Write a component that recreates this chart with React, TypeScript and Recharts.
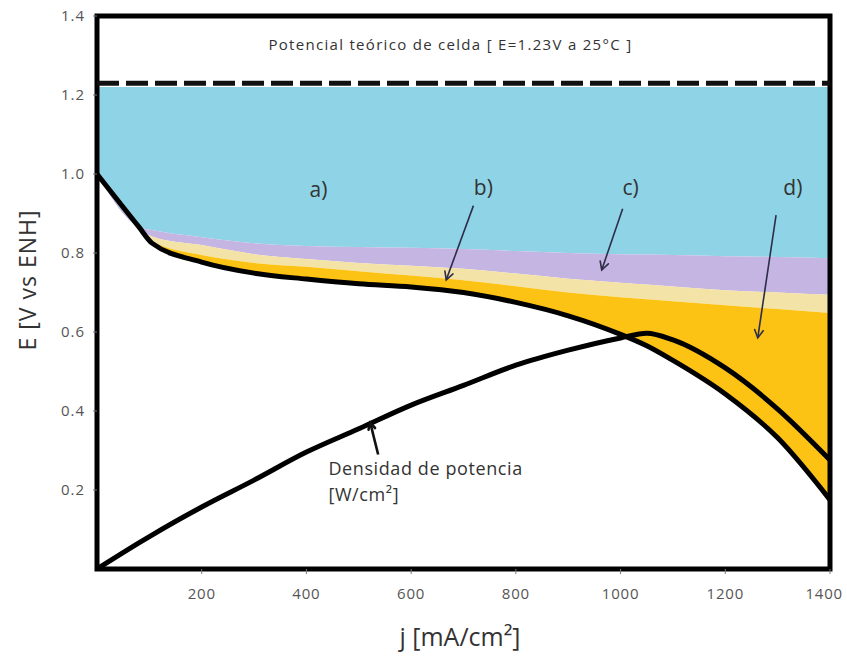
import { ComposedChart, Area, Line, XAxis, YAxis, ReferenceLine, ReferenceArea, ReferenceDot } from 'recharts'

// j [mA/cm2] and read-off values (V) for each layer boundary
const jValues = [0, 80, 105, 200, 300, 400, 500, 600, 700, 800, 900, 1000, 1050, 1100, 1200, 1300, 1400]
const cellVoltage = [1.0, 0.866, 0.825, 0.777, 0.749, 0.734, 0.722, 0.714, 0.7, 0.675, 0.641, 0.594, 0.565, 0.528, 0.443, 0.332, 0.175]
const powerDensity = [0, 0.066, 0.086, 0.157, 0.225, 0.296, 0.355, 0.415, 0.465, 0.516, 0.554, 0.585, 0.597, 0.58, 0.509, 0.405, 0.276]
const lossD = [1.0, 0.866, 0.83, 0.795, 0.775, 0.765, 0.754, 0.743, 0.731, 0.716, 0.7, 0.688, 0.683, 0.678, 0.668, 0.658, 0.648]
const lossC = [1.0, 0.866, 0.842, 0.82, 0.797, 0.785, 0.775, 0.768, 0.76, 0.748, 0.735, 0.725, 0.72, 0.715, 0.706, 0.7, 0.694]
const lossB = [1.0, 0.866, 0.858, 0.84, 0.825, 0.818, 0.815, 0.813, 0.81, 0.805, 0.8, 0.797, 0.796, 0.795, 0.792, 0.79, 0.787]
const lossATop = 1.22
const theoretical = 1.23

const xTicks = [200, 400, 600, 800, 1000, 1200, 1400]
const yTicks = [0.2, 0.4, 0.6, 0.8, 1.0, 1.2, 1.4]

const data = jValues.map((j, i) => ({
  j,
  E: cellVoltage[i],
  P: powerDensity[i],
  a: [lossB[i], lossATop],
  b: [lossC[i], lossB[i]],
  c: [lossD[i], lossC[i]],
  d: [cellVoltage[i], lossD[i]],
}))

const font = '"Open Sans", sans-serif'

const arrow = (color: string, width: number, head = 9) => (p: any) => {
  const { x1, y1, x2, y2 } = p
  const a = Math.atan2(y2 - y1, x2 - x1)
  const h1 = [x2 - head * Math.cos(a - 0.5), y2 - head * Math.sin(a - 0.5)]
  const h2 = [x2 - head * Math.cos(a + 0.5), y2 - head * Math.sin(a + 0.5)]
  return (
    <g>
      <line x1={x1} y1={y1} x2={x2} y2={y2} stroke={color} strokeWidth={width} />
      <polyline
        points={`${h1[0]},${h1[1]} ${x2},${y2} ${h2[0]},${h2[1]}`}
        fill="none"
        stroke={color}
        strokeWidth={width}
        strokeLinecap="round"
      />
    </g>
  )
}

const note = (text: string, size: number, anchor: 'start' | 'middle', spacing = 0, color = '#333') => (p: any) => (
  <text
    x={p.cx}
    y={p.cy}
    textAnchor={anchor}
    dominantBaseline="middle"
    fontFamily={font}
    fontSize={size}
    letterSpacing={spacing}
    fill={color}
  >
    {text}
  </text>
)

// last label would run off the right edge, so pull it in a bit
const XTick = (p: any) => {
  const last = p.payload.value === 1400
  return (
    <text
      x={last ? p.x + 13 : p.x}
      y={p.y}
      dy="0.71em"
      textAnchor={last ? 'end' : 'middle'}
      fontFamily={font}
      fontSize={15}
      letterSpacing={0.8}
      fill="#555"
    >
      {p.payload.value}
    </text>
  )
}

export default function App() {
  return (
    <div style={{ position: 'absolute', left: 0, top: 0, background: '#fff' }}>
      <ComposedChart width={847} height={656} data={data} margin={{ top: 16, right: 17, bottom: 0, left: 0 }}>
        <XAxis
          dataKey="j"
          type="number"
          domain={[0, 1400]}
          ticks={xTicks}
          height={87}
          axisLine={false}
          tickLine={{ stroke: '#777' }}
          tickSize={5}
          tickMargin={14}
          tick={<XTick />}
          label={{
            content: () => (
              <text x={460} y={646} textAnchor="middle" fontFamily={font} fontSize={25} fill="#333">
                j [mA/cm²]
              </text>
            ),
          }}
        />
        <YAxis
          type="number"
          domain={[0, 1.4]}
          ticks={yTicks}
          width={97}
          axisLine={false}
          tickLine={{ stroke: '#777' }}
          tickSize={4}
          tickMargin={8}
          tickFormatter={(v: number) => v.toFixed(1)}
          tick={{ fontSize: 15, fill: '#555', fontFamily: font, letterSpacing: 1 }}
          label={{
            content: () => (
              <text
                x={36}
                y={280}
                transform="rotate(-90 36 280)"
                textAnchor="middle"
                fontFamily={font}
                fontSize={23}
                letterSpacing={1}
                fill="#333"
              >
                E [V vs ENH]
              </text>
            ),
          }}
        />
        <Area type="monotone" dataKey="a" stroke="none" fill="#8fd4e6" fillOpacity={1} isAnimationActive={false} />
        <Area type="monotone" dataKey="b" stroke="none" fill="#c5b5e2" fillOpacity={1} isAnimationActive={false} />
        <Area type="monotone" dataKey="c" stroke="none" fill="#f4e3a6" fillOpacity={1} isAnimationActive={false} />
        <Area type="monotone" dataKey="d" stroke="none" fill="#fcc214" fillOpacity={1} isAnimationActive={false} />
        <ReferenceLine y={theoretical} stroke="#111" strokeWidth={5} strokeDasharray="22 7" />
        <Line type="monotone" dataKey="E" stroke="#000" strokeWidth={5} dot={false} strokeLinejoin="round" isAnimationActive={false} />
        <Line type="monotone" dataKey="P" stroke="#000" strokeWidth={5} dot={false} strokeLinejoin="round" isAnimationActive={false} />
        <ReferenceArea x1={0} x2={1400} y1={0} y2={1.4} fill="none" stroke="#000" strokeWidth={5} />

        <ReferenceDot x={675} y={1.324} r={1} shape={note('Potencial teórico de celda [ E=1.23V a 25°C ]', 15, 'middle', 1.3)} />
        <ReferenceDot x={423} y={0.955} r={1} shape={note('a)', 21, 'middle')} />
        <ReferenceDot x={738} y={0.96} r={1} shape={note('b)', 21, 'middle')} />
        <ReferenceDot x={1019} y={0.96} r={1} shape={note('c)', 21, 'middle')} />
        <ReferenceDot x={1329} y={0.96} r={1} shape={note('d)', 21, 'middle')} />
        <ReferenceDot x={442} y={0.25} r={1} shape={note('Densidad de potencia', 18, 'start', 0.6)} />
        <ReferenceDot x={442} y={0.185} r={1} shape={note('[W/cm²]', 18, 'start', 0.6)} />

        <ReferenceLine segment={[{ x: 719, y: 0.92 }, { x: 667, y: 0.732 }]} shape={arrow('#2d2d48', 1.6)} />
        <ReferenceLine segment={[{ x: 1004, y: 0.912 }, { x: 964, y: 0.757 }]} shape={arrow('#2d2d48', 1.6)} />
        <ReferenceLine segment={[{ x: 1297, y: 0.896 }, { x: 1262, y: 0.585 }]} shape={arrow('#2d2d48', 1.6)} />
        <ReferenceLine segment={[{ x: 537, y: 0.29 }, { x: 522, y: 0.37 }]} shape={arrow('#111', 2.6, 7)} />
      </ComposedChart>
    </div>
  )
}
